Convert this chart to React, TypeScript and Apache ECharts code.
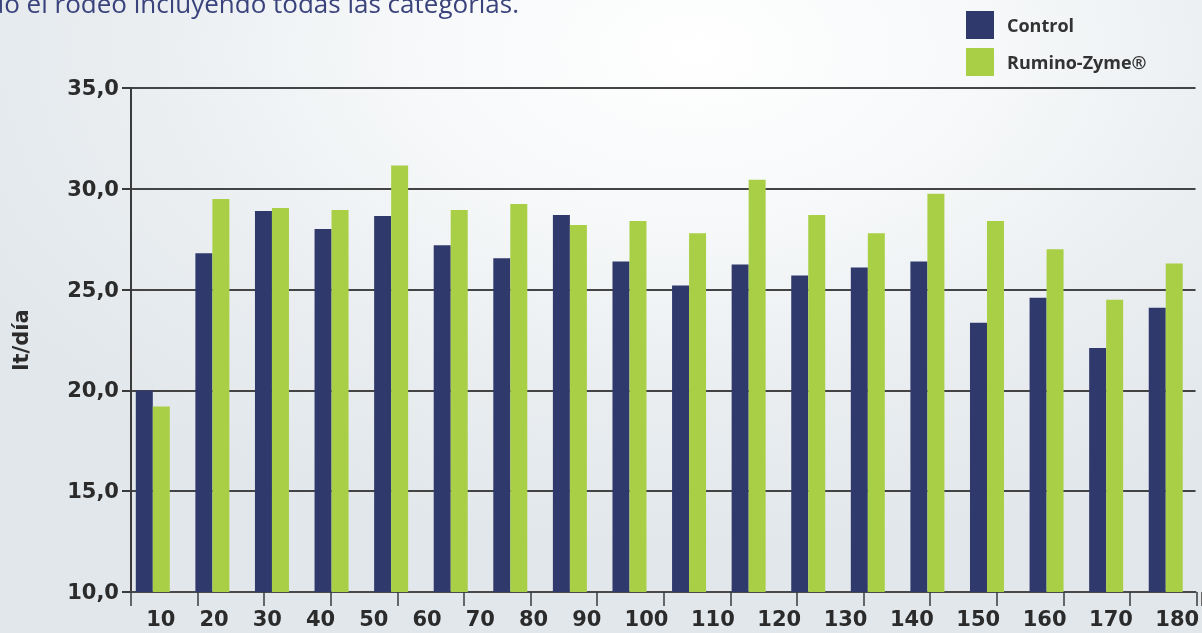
import React, { useEffect, useRef } from "react";
import * as echarts from "echarts";

const categories = ["10", "20", "30", "40", "50", "60", "70", "80", "90", "100", "110", "120", "130", "140", "150", "160", "170", "180"];
const controlValues = [20.0, 26.8, 28.9, 28.0, 28.65, 27.2, 26.55, 28.7, 26.4, 25.2, 26.25, 25.7, 26.1, 26.4, 23.35, 24.6, 22.1, 24.1];
const ruminoValues = [19.2, 29.5, 29.05, 28.95, 31.15, 28.95, 29.25, 28.2, 28.4, 27.8, 30.45, 28.7, 27.8, 29.75, 28.4, 27.0, 24.5, 26.3];
const seriesNames = ["Control", "Rumino-Zyme®"];
const yTicks = { min: 10, max: 35, interval: 5 };
const yAxisName = "lt/día";
const captionText = "todo el rodeo incluyendo todas las categorías.";

const W = 1202;
const H = 633;
const GRID_LEFT = 123;
const GRID_TOP = 88;
const GRID_BOTTOM = 41;
const BAND = (W - GRID_LEFT) / categories.length;

// x labels in the reference are laid out like a text run (equal gaps between numbers)
const DIGIT_W = 13.1;
const LABEL_GAP = 27.4;
const FIRST_LABEL_CENTER = 161;

function buildLabelRich() {
  const rich: Record<string, any> = {};
  let center = FIRST_LABEL_CENTER;
  categories.forEach((c, i) => {
    if (i > 0) {
      const prevW = categories[i - 1].length * DIGIT_W;
      const w = c.length * DIGIT_W;
      center += prevW / 2 + w / 2 + LABEL_GAP;
    }
    const bandCenter = GRID_LEFT + BAND * (i + 0.5);
    const off = center - bandCenter;
    rich["l" + i] = {
      fontFamily: "DejaVu Sans",
      fontWeight: "bold",
      fontSize: 21,
      color: "#2b2b2b",
      padding: off >= 0 ? [0, 0, 0, 2 * off] : [0, -2 * off, 0, 0],
    };
  });
  return rich;
}

export default function App() {
  const ref = useRef<HTMLDivElement>(null);

  useEffect(() => {
    if (!ref.current) return;
    const chart = echarts.init(ref.current, null, { renderer: "svg" });
    const tickSpacing = 66.6;
    const tickGridWidth = W - 131;
    chart.setOption({
      animation: false,
      backgroundColor: "transparent",
      legend: {
        orient: "vertical",
        left: 966,
        top: 11,
        padding: 0,
        itemWidth: 28,
        itemHeight: 28,
        itemGap: 9,
        icon: "rect",
        data: seriesNames,
        textStyle: {
          fontFamily: "Open Sans",
          fontWeight: "bold",
          fontSize: 18,
          color: "#333333",
          padding: [0, 0, 0, 8],
        },
      },
      graphic: [
        {
          type: "text",
          x: 519,
          y: 3,
          style: {
            text: captionText,
            fontFamily: "Open Sans",
            fontSize: 26,
            fill: "#3a437c",
            textAlign: "right",
            textVerticalAlign: "middle",
          },
        },
      ],
      grid: [
        { left: GRID_LEFT, right: 0, top: GRID_TOP, bottom: GRID_BOTTOM, containLabel: false },
        { left: 131, width: tickGridWidth, top: GRID_TOP, bottom: GRID_BOTTOM, containLabel: false },
      ],
      xAxis: [
        {
          type: "category",
          gridIndex: 0,
          data: categories,
          boundaryGap: true,
          axisLine: { show: true, lineStyle: { color: "#4a4a4a", width: 2 } },
          axisTick: { show: false },
          axisLabel: {
            interval: 0,
            margin: 16,
            formatter: (v: string, i: number) => `{l${i}|${v}}`,
            rich: buildLabelRich(),
          },
          splitLine: { show: false },
        },
        {
          type: "value",
          gridIndex: 1,
          min: 0,
          max: tickGridWidth / tickSpacing,
          interval: 1,
          axisLine: { show: false },
          axisTick: { show: true, length: 14, lineStyle: { color: "#3a3a3a", width: 1.5 } },
          axisLabel: { show: false },
          splitLine: { show: false },
        },
      ],
      yAxis: [
        {
          type: "value",
          gridIndex: 0,
          min: yTicks.min,
          max: yTicks.max,
          interval: yTicks.interval,
          offset: -8,
          name: yAxisName,
          nameLocation: "middle",
          nameRotate: 90,
          nameGap: 100,
          nameTextStyle: {
            fontFamily: "DejaVu Sans",
            fontWeight: "bold",
            fontSize: 21,
            color: "#2b2b2b",
            padding: [0, 0, 0, 0],
          },
          axisLine: { show: true, lineStyle: { color: "#3a3a3a", width: 2 } },
          axisTick: { show: true, length: 9, lineStyle: { color: "#3a3a3a", width: 2 } },
          axisLabel: {
            margin: 12,
            fontFamily: "DejaVu Sans",
            fontWeight: "bold",
            fontSize: 21,
            color: "#2b2b2b",
            formatter: (v: number) => v.toFixed(1).replace(".", ","),
          },
          splitLine: { show: true, lineStyle: { color: "#444444", width: 2 } },
        },
        {
          type: "value",
          gridIndex: 1,
          show: false,
          min: 0,
          max: 1,
        },
      ],
      series: [
        {
          name: seriesNames[0],
          type: "bar",
          xAxisIndex: 0,
          yAxisIndex: 0,
          data: controlValues,
          barWidth: 17,
          barGap: "0%",
          itemStyle: { color: "#30396b" },
        },
        {
          name: seriesNames[1],
          type: "bar",
          xAxisIndex: 0,
          yAxisIndex: 0,
          data: ruminoValues,
          barWidth: 17,
          barGap: "0%",
          itemStyle: { color: "#a9cf46" },
        },
      ],
    });
    return () => chart.dispose();
  }, []);

  return (
    <div
      style={{
        position: "fixed",
        left: 0,
        top: 0,
        width: W,
        height: H,
        background:
          "radial-gradient(ellipse 70% 80% at 58% 8%, #ffffff 0%, #f6f8f9 35%, #e9edf0 70%, #e2e7eb 100%)",
      }}
    >
      <div ref={ref} style={{ width: W, height: H }} />
    </div>
  );
}
